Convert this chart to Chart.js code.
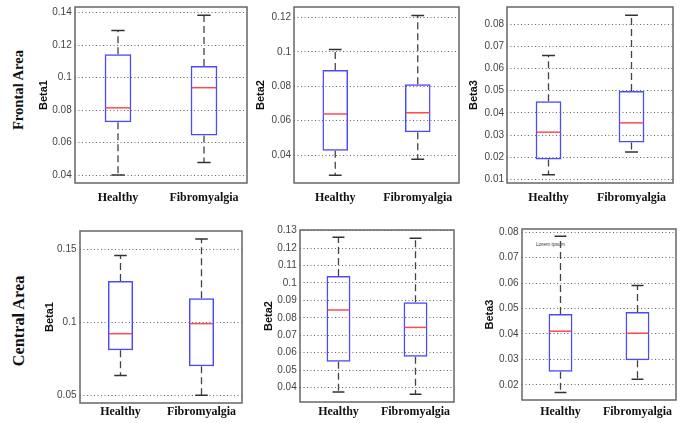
<!DOCTYPE html>
<html>
<head>
<meta charset="utf-8">
<script src="https://cdn.jsdelivr.net/npm/chart.js@4.4.1/dist/chart.umd.min.js"></script>
<style>
  body { margin: 0; background: #fff; width: 685px; height: 423px; position: relative; overflow: hidden; }
  canvas { position: absolute; }
  .rowlabel { position: absolute; font: bold 15px "Liberation Serif", serif; color: #111;
              white-space: nowrap; transform: translate(-50%, -50%) rotate(-90deg); }
  .note { position: absolute; font: 5px "Liberation Sans", sans-serif; color: #333; white-space: nowrap; }
</style>
</head>
<body>
<div class="rowlabel" style="left:18px; top:90px; font-size:14.6px">Frontal Area</div>
<div class="rowlabel" style="left:19px; top:321px; font-size:16.3px">Central Area</div>
<div class="note" style="left:536px; top:241px">Lorem ipsum</div>
<canvas id="c1"></canvas><canvas id="c2"></canvas><canvas id="c3"></canvas>
<canvas id="c4"></canvas><canvas id="c5"></canvas><canvas id="c6"></canvas>
<script>
const groups = ['Healthy', 'Fibromyalgia'];

// [min, q1, median, q3, max] for Healthy, Fibromyalgia
const frontalBeta1 = [[0.0400, 0.0725, 0.0814, 0.1144, 0.1290], [0.0477, 0.0643, 0.0938, 0.1072, 0.1384]];
const frontalBeta2 = [[0.0282, 0.0425, 0.0639, 0.0895, 0.1014], [0.0375, 0.0532, 0.0646, 0.0812, 0.1212]];
const frontalBeta3 = [[0.0121, 0.0190, 0.0313, 0.0452, 0.0659], [0.0224, 0.0267, 0.0355, 0.0498, 0.0840]];
const centralBeta1 = [[0.0635, 0.0809, 0.0923, 0.1285, 0.1459], [0.0500, 0.0699, 0.0992, 0.1166, 0.1573]];
const centralBeta2 = [[0.0374, 0.0548, 0.0845, 0.1040, 0.1262], [0.0362, 0.0576, 0.0745, 0.0890, 0.1256]];
const centralBeta3 = [[0.0170, 0.0252, 0.0411, 0.0478, 0.0784], [0.0222, 0.0297, 0.0403, 0.0486, 0.0590]];

const frontalBeta1Ticks = [0.04, 0.06, 0.08, 0.1, 0.12, 0.14];
const frontalBeta2Ticks = [0.04, 0.06, 0.08, 0.1, 0.12];
const frontalBeta3Ticks = [0.01, 0.02, 0.03, 0.04, 0.05, 0.06, 0.07, 0.08];
const centralBeta1Ticks = [0.05, 0.1, 0.15];
const centralBeta2Ticks = [0.04, 0.05, 0.06, 0.07, 0.08, 0.09, 0.1, 0.11, 0.12, 0.13];
const centralBeta3Ticks = [0.02, 0.03, 0.04, 0.05, 0.06, 0.07, 0.08];

// axis limits [min, max]
const frontalBeta1Range = [0.0351, 0.1435];
const frontalBeta2Range = [0.0237, 0.1262];
const frontalBeta3Range = [0.0084, 0.0877];
const centralBeta1Range = [0.0447, 0.1628];
const centralBeta2Range = [0.0317, 0.1304];
const centralBeta3Range = [0.0141, 0.0812];

// plot box [left, top, right, bottom] in page pixels
const panels = [
  { id: 'c1', stats: frontalBeta1, ticks: frontalBeta1Ticks, range: frontalBeta1Range, title: 'Beta1', plot: [75, 7, 247, 183], titleX: 43.7, tickGap: 3.3, labelPad: 7.3 },
  { id: 'c2', stats: frontalBeta2, ticks: frontalBeta2Ticks, range: frontalBeta2Range, title: 'Beta2', plot: [294, 7, 459, 183], titleX: 261, tickGap: 3, labelPad: 7.3 },
  { id: 'c3', stats: frontalBeta3, ticks: frontalBeta3Ticks, range: frontalBeta3Range, title: 'Beta3', plot: [507, 7, 673, 183], titleX: 474, tickGap: 3, labelPad: 7.3 },
  { id: 'c4', stats: centralBeta1, ticks: centralBeta1Ticks, range: centralBeta1Range, title: 'Beta1', plot: [80, 231, 242, 403], titleX: 49.3, tickGap: 3.5, labelPad: 2 },
  { id: 'c5', stats: centralBeta2, ticks: centralBeta2Ticks, range: centralBeta2Range, title: 'Beta2', plot: [300, 230, 454, 402], titleX: 269, tickGap: 3.3, labelPad: 2.6 },
  { id: 'c6', stats: centralBeta3, ticks: centralBeta3Ticks, range: centralBeta3Range, title: 'Beta3', plot: [522, 229, 676, 400], titleX: 490, tickGap: 3.5, labelPad: 4.3 }
];

const PAD_TOP = 10, PAD_RIGHT = 3, X_AXIS_H = 28;

// whiskers, caps, medians and the frame of the axes
const boxExtras = {
  id: 'boxExtras',
  afterDatasetsDraw(chart, args, opts) {
    const ctx = chart.ctx;
    const y = chart.scales.y;
    const meta = chart.getDatasetMeta(0);
    const stats = opts.stats;
    ctx.save();
    meta.data.forEach((bar, i) => {
      const [mn, q1, med, q3, mx] = stats[i];
      const half = bar.width / 2;
      const capHalf = half / 2;
      // dashed whiskers
      ctx.strokeStyle = '#444';
      ctx.lineWidth = 1.3;
      ctx.setLineDash([7, 4]);
      ctx.beginPath();
      ctx.moveTo(bar.x, y.getPixelForValue(q3));
      ctx.lineTo(bar.x, y.getPixelForValue(mx));
      ctx.moveTo(bar.x, y.getPixelForValue(q1));
      ctx.lineTo(bar.x, y.getPixelForValue(mn));
      ctx.stroke();
      // caps
      ctx.setLineDash([]);
      ctx.strokeStyle = '#333';
      ctx.lineWidth = 1.5;
      ctx.beginPath();
      ctx.moveTo(bar.x - capHalf, y.getPixelForValue(mx));
      ctx.lineTo(bar.x + capHalf, y.getPixelForValue(mx));
      ctx.moveTo(bar.x - capHalf, y.getPixelForValue(mn));
      ctx.lineTo(bar.x + capHalf, y.getPixelForValue(mn));
      ctx.stroke();
      // median
      ctx.strokeStyle = '#ff4a4a';
      ctx.lineWidth = 1.5;
      ctx.beginPath();
      ctx.moveTo(bar.x - half + 1, y.getPixelForValue(med));
      ctx.lineTo(bar.x + half - 1, y.getPixelForValue(med));
      ctx.stroke();
    });
    const a = chart.chartArea;
    ctx.strokeStyle = '#666';
    ctx.lineWidth = 1.5;
    ctx.strokeRect(a.left, a.top, a.right - a.left, a.bottom - a.top);
    ctx.restore();
  }
};

panels.forEach(p => {
  const [L, T, R, B] = p.plot;
  const left = Math.round(p.titleX - 6.6);
  const top = T - PAD_TOP;
  const width = R + PAD_RIGHT - left;
  const height = PAD_TOP + (B - T) + X_AXIS_H;
  const yW = L - left;

  const canvas = document.getElementById(p.id);
  canvas.width = width;
  canvas.height = height;
  canvas.style.left = left + 'px';
  canvas.style.top = top + 'px';
  canvas.style.width = width + 'px';
  canvas.style.height = height + 'px';

  new Chart(canvas, {
    type: 'bar',
    data: {
      labels: groups,
      datasets: [{
        data: p.stats.map(s => [s[1], s[3]]),
        backgroundColor: 'rgba(0,0,0,0)',
        borderColor: '#4a4aff',
        borderWidth: 1.5,
        borderSkipped: false,
        barPercentage: 0.31,
        categoryPercentage: 1
      }]
    },
    options: {
      responsive: false,
      animation: false,
      devicePixelRatio: 1,
      layout: { padding: { top: PAD_TOP, right: PAD_RIGHT, left: 0, bottom: 0 } },
      plugins: {
        legend: { display: false },
        tooltip: { enabled: false },
        boxExtras: { stats: p.stats }
      },
      scales: {
        x: {
          grid: { display: false, drawTicks: false },
          border: { display: false },
          ticks: {
            padding: p.labelPad,
            color: '#111',
            font: { family: 'Liberation Serif', size: 12, weight: 'bold' }
          },
          afterFit: scale => { scale.height = X_AXIS_H; }
        },
        y: {
          min: p.range[0],
          max: p.range[1],
          grid: { color: '#666', lineWidth: 1, drawTicks: false },
          border: { display: false, dash: [1, 2.5] },
          afterBuildTicks: scale => { scale.ticks = p.ticks.map(v => ({ value: v })); },
          ticks: {
            padding: p.tickGap,
            color: '#444',
            font: { family: 'Liberation Sans', size: 10 },
            callback: v => String(v)
          },
          title: {
            display: true,
            text: p.title,
            padding: 0,
            color: '#111',
            font: { family: 'Liberation Sans', size: 11, weight: 'bold' }
          },
          afterFit: scale => { scale.width = yW; }
        }
      }
    },
    plugins: [boxExtras]
  });
});
</script>
</body>
</html>
